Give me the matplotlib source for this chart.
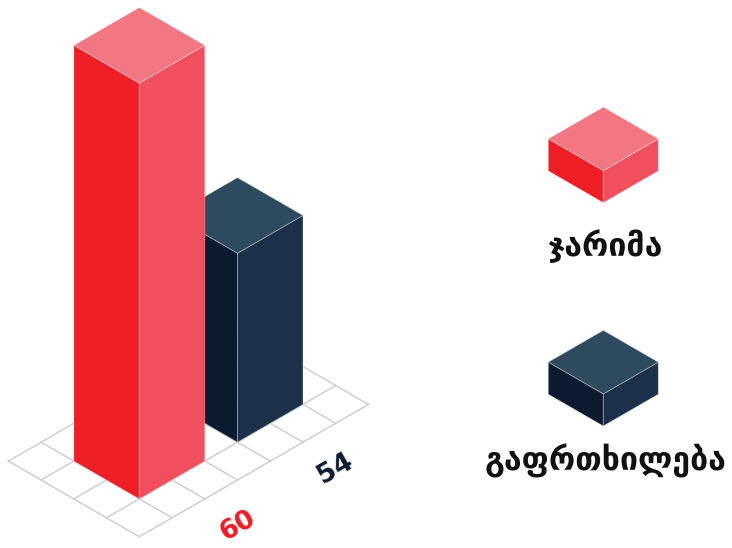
import numpy as np
import matplotlib.pyplot as plt
from matplotlib.patches import Polygon

# data
categories = ["ჯარიმა", "გაფრთხილება"]
values = [60, 54]
base_value = 49  # floor of the value axis

# colours: left face, right face, top
face_colors = [
    ["#ED1E25", "#F0505E", "#F27782"],
    ["#0C1A30", "#1C3049", "#2E4A5F"],
]

CELL = 37.8
COS30 = np.cos(np.radians(30))


def iso(a, b, h, ox=139.3, oy=536.7):
    x = ox + (b - a) * CELL * COS30
    y = oy - (a + b) * CELL * 0.5 - h * CELL
    return x, y


def box(ax, a0, a1, b0, b1, h, cols, ox=139.3, oy=536.7):
    faces = [
        [(a0, b0, 0), (a1, b0, 0), (a1, b0, h), (a0, b0, h)],
        [(a0, b0, 0), (a0, b1, 0), (a0, b1, h), (a0, b0, h)],
        [(a0, b0, h), (a1, b0, h), (a1, b1, h), (a0, b1, h)],
    ]
    for pts, c in zip(faces, cols):
        xy = [iso(a, b, z, ox, oy) for a, b, z in pts]
        ax.add_patch(Polygon(xy, closed=True, facecolor=c,
                             edgecolor=(1, 1, 1, 0.3), linewidth=0.7))


fig = plt.figure(figsize=(7.32, 5.48), dpi=100)
ax = fig.add_axes([0, 0, 1, 1])
ax.set_xlim(0, 732)
ax.set_ylim(548, 0)
ax.axis("off")

# floor grid
n_a, n_b = 4, 7
for a in range(n_a + 1):
    p, q = iso(a, 0, 0), iso(a, n_b, 0)
    ax.plot([p[0], q[0]], [p[1], q[1]], color="#cccccc", lw=1, zorder=0)
for b in range(n_b + 1):
    p, q = iso(0, b, 0), iso(n_a, b, 0)
    ax.plot([p[0], q[0]], [p[1], q[1]], color="#cccccc", lw=1, zorder=0)

# bars, back to front
bar_b0 = [1, 4]
for i in [1, 0]:
    h = values[i] - base_value
    box(ax, 1, 3, bar_b0[i], bar_b0[i] + 2, h, face_colors[i])
    lx, ly = iso(-1.2, bar_b0[i] + 0.8, 0)
    ax.text(lx, ly, str(values[i]), rotation=30, ha="center", va="center",
            fontsize=19, fontweight="bold", color=face_colors[i][0])

# legend
legend_pos = [(603.3, 202.7, 246), (603.3, 426.0, 461)]
for i, (ox, oy, ty) in enumerate(legend_pos):
    box(ax, 0, 1.68, 0, 1.68, 0.85, face_colors[i], ox, oy)
    ax.text(ox + 2, ty, categories[i], ha="center", va="center",
            fontsize=23, fontweight="bold", color="#111111")

fig.savefig("out.png", dpi=100)
